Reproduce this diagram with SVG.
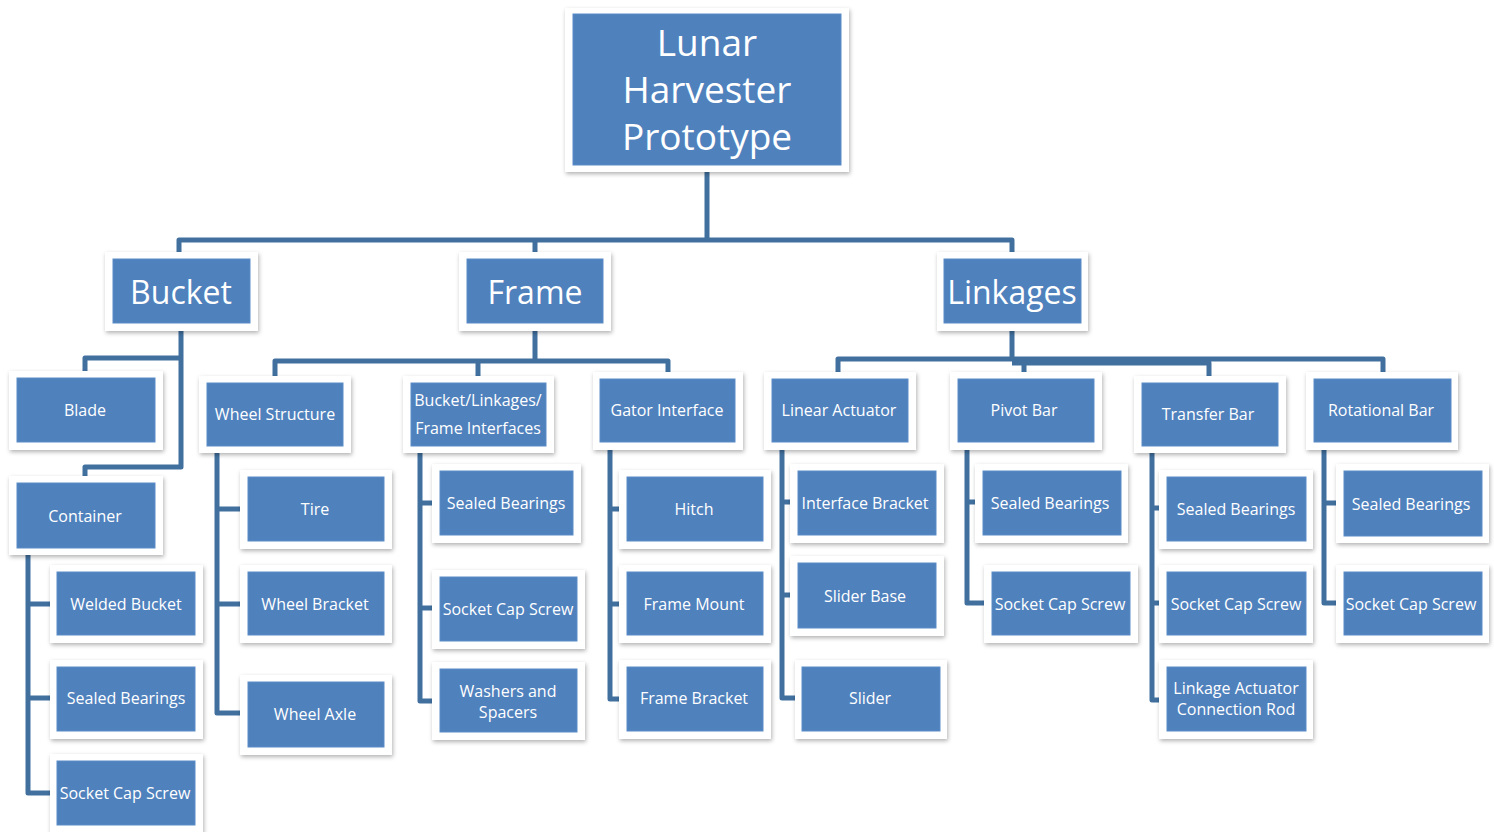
<svg xmlns="http://www.w3.org/2000/svg" width="1494" height="832" viewBox="0 0 1494 832">
  <defs>
    <filter id="shadow" x="-10%" y="-10%" width="125%" height="130%">
      <feDropShadow dx="1" dy="2" stdDeviation="2" flood-color="#000" flood-opacity="0.3"/>
    </filter>
    <style>
      .frame { fill: #ffffff; filter: url(#shadow); }
      .fill { fill: #4f81bd; stroke: #5b8cc6; stroke-width: 1; }
      .lbl { font-family: "Open Sans", "Noto Sans", sans-serif; fill: #ffffff; text-anchor: middle; dominant-baseline: central; font-size: 16px; }
      .big { font-size: 32px; }
      .huge { font-size: 37px; }
      .conn { fill: none; stroke: #41709f; stroke-width: 5; stroke-linejoin: round; stroke-linecap: butt; }
    </style>
  </defs>
  <rect width="1494" height="832" fill="#ffffff"/>

  <!-- connectors -->
  <g id="connectors" class="conn">
    <path d="M707,172 V240 M179,252 V240 H1012 V252 M535,240 V252"/>
    <path d="M181,331 V467 H85 V476 M181,358 H85 V371"/>
    <path d="M535,331 V361 M275,376 V361 H668 V372 M478,361 V376"/>
    <path d="M1012,331 V359 M838,372 V359 H1383 V372 M1024,359 V372 M1012,363 H1209 V376"/>
    <path d="M28,555 V793 H50 M28,604 H50 M28,698 H50"/>
    <path d="M217,453 V713 H240 M217,509 H240 M217,604 H240"/>
    <path d="M420,453 V701 H432 M420,503 H432 M420,608 H432"/>
    <path d="M610,450 V699 H619 M610,509 H619 M610,604 H619"/>
    <path d="M782,450 V698 H795 M782,502 H790 M782,595 H790"/>
    <path d="M967,450 V603 H984 M967,502 H975"/>
    <path d="M1152,453 V700 H1159 M1152,508 H1159 M1152,603 H1159"/>
    <path d="M1324,450 V603 H1336 M1324,503 H1336"/>
  </g>

  <!-- root -->
  <g id="lunar-harvester">
    <rect class="frame" x="565" y="8" width="284" height="164"/>
    <rect class="fill" x="573" y="14" width="268" height="151"/>
    <text class="lbl huge" x="707" y="41">Lunar</text>
    <text class="lbl huge" x="707" y="88">Harvester</text>
    <text class="lbl huge" x="707" y="135">Prototype</text>
  </g>

  <!-- level 1 -->
  <g id="bucket">
    <rect class="frame" x="105" y="252" width="153" height="79"/>
    <rect class="fill" x="113" y="259" width="137" height="64"/>
    <text class="lbl big" x="181" y="291">Bucket</text>
  </g>
  <g id="frame">
    <rect class="frame" x="459" y="252" width="152" height="79"/>
    <rect class="fill" x="467" y="259" width="136" height="64"/>
    <text class="lbl big" x="535" y="291">Frame</text>
  </g>
  <g id="linkages">
    <rect class="frame" x="937" y="252" width="151" height="79"/>
    <rect class="fill" x="944" y="259" width="137" height="64"/>
    <text class="lbl big" x="1012" y="291">Linkages</text>
  </g>

  <!-- bucket branch -->
  <g id="blade">
    <rect class="frame" x="9" y="371" width="154" height="79"/>
    <rect class="fill" x="17" y="378" width="138" height="64"/>
    <text class="lbl" x="85" y="410">Blade</text>
  </g>
  <g id="container">
    <rect class="frame" x="9" y="476" width="154" height="79"/>
    <rect class="fill" x="17" y="483" width="138" height="65"/>
    <text class="lbl" x="85" y="516">Container</text>
  </g>
  <g id="welded-bucket">
    <rect class="frame" x="50" y="565" width="153" height="78"/>
    <rect class="fill" x="57" y="572" width="138" height="63"/>
    <text class="lbl" x="126" y="604">Welded Bucket</text>
  </g>
  <g id="bucket-sealed-bearings">
    <rect class="frame" x="50" y="660" width="153" height="79"/>
    <rect class="fill" x="57" y="667" width="138" height="64"/>
    <text class="lbl" x="126" y="698">Sealed Bearings</text>
  </g>
  <g id="bucket-socket-cap-screw">
    <rect class="frame" x="50" y="754" width="153" height="80"/>
    <rect class="fill" x="57" y="761" width="138" height="64"/>
    <text class="lbl" x="125" y="793">Socket Cap Screw</text>
  </g>

  <!-- frame branch -->
  <g id="wheel-structure">
    <rect class="frame" x="199" y="376" width="152" height="77"/>
    <rect class="fill" x="207" y="383" width="136" height="63"/>
    <text class="lbl" x="275" y="414">Wheel Structure</text>
  </g>
  <g id="frame-interfaces">
    <rect class="frame" x="403" y="376" width="151" height="77"/>
    <rect class="fill" x="411" y="383" width="135" height="63"/>
    <text class="lbl" x="478" y="400">Bucket/Linkages/</text>
    <text class="lbl" x="478" y="428">Frame Interfaces</text>
  </g>
  <g id="gator-interface">
    <rect class="frame" x="593" y="372" width="150" height="78"/>
    <rect class="fill" x="600" y="379" width="135" height="63"/>
    <text class="lbl" x="667" y="410">Gator Interface</text>
  </g>
  <g id="tire">
    <rect class="frame" x="240" y="470" width="152" height="79"/>
    <rect class="fill" x="248" y="477" width="136" height="64"/>
    <text class="lbl" x="315" y="509">Tire</text>
  </g>
  <g id="wheel-bracket">
    <rect class="frame" x="240" y="565" width="152" height="78"/>
    <rect class="fill" x="248" y="572" width="136" height="63"/>
    <text class="lbl" x="315" y="604">Wheel Bracket</text>
  </g>
  <g id="wheel-axle">
    <rect class="frame" x="240" y="675" width="152" height="80"/>
    <rect class="fill" x="248" y="682" width="136" height="65"/>
    <text class="lbl" x="315" y="714">Wheel Axle</text>
  </g>
  <g id="interfaces-sealed-bearings">
    <rect class="frame" x="432" y="464" width="149" height="79"/>
    <rect class="fill" x="440" y="471" width="133" height="64"/>
    <text class="lbl" x="506" y="503">Sealed Bearings</text>
  </g>
  <g id="interfaces-socket-cap-screw">
    <rect class="frame" x="432" y="570" width="153" height="79"/>
    <rect class="fill" x="440" y="577" width="137" height="64"/>
    <text class="lbl" x="508" y="609">Socket Cap Screw</text>
  </g>
  <g id="washers-spacers">
    <rect class="frame" x="432" y="662" width="153" height="78"/>
    <rect class="fill" x="440" y="669" width="137" height="63"/>
    <text class="lbl" x="508" y="691">Washers and</text>
    <text class="lbl" x="508" y="712">Spacers</text>
  </g>
  <g id="hitch">
    <rect class="frame" x="619" y="470" width="152" height="79"/>
    <rect class="fill" x="627" y="477" width="136" height="64"/>
    <text class="lbl" x="694" y="509">Hitch</text>
  </g>
  <g id="frame-mount">
    <rect class="frame" x="619" y="565" width="152" height="78"/>
    <rect class="fill" x="627" y="572" width="136" height="63"/>
    <text class="lbl" x="694" y="604">Frame Mount</text>
  </g>
  <g id="frame-bracket">
    <rect class="frame" x="619" y="660" width="152" height="79"/>
    <rect class="fill" x="627" y="667" width="136" height="64"/>
    <text class="lbl" x="694" y="698">Frame Bracket</text>
  </g>

  <!-- linkages branch -->
  <g id="linear-actuator">
    <rect class="frame" x="764" y="372" width="152" height="78"/>
    <rect class="fill" x="772" y="379" width="136" height="63"/>
    <text class="lbl" x="839" y="410">Linear Actuator</text>
  </g>
  <g id="pivot-bar">
    <rect class="frame" x="950" y="372" width="152" height="78"/>
    <rect class="fill" x="958" y="379" width="136" height="63"/>
    <text class="lbl" x="1024" y="410">Pivot Bar</text>
  </g>
  <g id="transfer-bar">
    <rect class="frame" x="1134" y="376" width="152" height="77"/>
    <rect class="fill" x="1142" y="383" width="136" height="63"/>
    <text class="lbl" x="1208" y="414">Transfer Bar</text>
  </g>
  <g id="rotational-bar">
    <rect class="frame" x="1306" y="372" width="152" height="78"/>
    <rect class="fill" x="1314" y="379" width="137" height="63"/>
    <text class="lbl" x="1381" y="410">Rotational Bar</text>
  </g>
  <g id="interface-bracket">
    <rect class="frame" x="790" y="464" width="154" height="79"/>
    <rect class="fill" x="798" y="471" width="138" height="64"/>
    <text class="lbl" x="865" y="503">Interface Bracket</text>
  </g>
  <g id="slider-base">
    <rect class="frame" x="790" y="556" width="154" height="80"/>
    <rect class="fill" x="798" y="563" width="138" height="65"/>
    <text class="lbl" x="865" y="596">Slider Base</text>
  </g>
  <g id="slider">
    <rect class="frame" x="795" y="660" width="152" height="79"/>
    <rect class="fill" x="802" y="667" width="138" height="64"/>
    <text class="lbl" x="870" y="698">Slider</text>
  </g>
  <g id="pivot-sealed-bearings">
    <rect class="frame" x="975" y="464" width="153" height="79"/>
    <rect class="fill" x="983" y="471" width="138" height="64"/>
    <text class="lbl" x="1050" y="503">Sealed Bearings</text>
  </g>
  <g id="pivot-socket-cap-screw">
    <rect class="frame" x="984" y="565" width="154" height="78"/>
    <rect class="fill" x="992" y="572" width="138" height="63"/>
    <text class="lbl" x="1060" y="604">Socket Cap Screw</text>
  </g>
  <g id="transfer-sealed-bearings">
    <rect class="frame" x="1159" y="470" width="154" height="79"/>
    <rect class="fill" x="1167" y="477" width="139" height="64"/>
    <text class="lbl" x="1236" y="509">Sealed Bearings</text>
  </g>
  <g id="transfer-socket-cap-screw">
    <rect class="frame" x="1159" y="565" width="154" height="78"/>
    <rect class="fill" x="1167" y="572" width="139" height="63"/>
    <text class="lbl" x="1236" y="604">Socket Cap Screw</text>
  </g>
  <g id="connection-rod">
    <rect class="frame" x="1159" y="660" width="154" height="79"/>
    <rect class="fill" x="1167" y="667" width="139" height="64"/>
    <text class="lbl" x="1236" y="688">Linkage Actuator</text>
    <text class="lbl" x="1236" y="709">Connection Rod</text>
  </g>
  <g id="rotational-sealed-bearings">
    <rect class="frame" x="1336" y="464" width="153" height="79"/>
    <rect class="fill" x="1344" y="471" width="138" height="65"/>
    <text class="lbl" x="1411" y="504">Sealed Bearings</text>
  </g>
  <g id="rotational-socket-cap-screw">
    <rect class="frame" x="1336" y="565" width="153" height="78"/>
    <rect class="fill" x="1344" y="572" width="138" height="63"/>
    <text class="lbl" x="1411" y="604">Socket Cap Screw</text>
  </g>
</svg>
